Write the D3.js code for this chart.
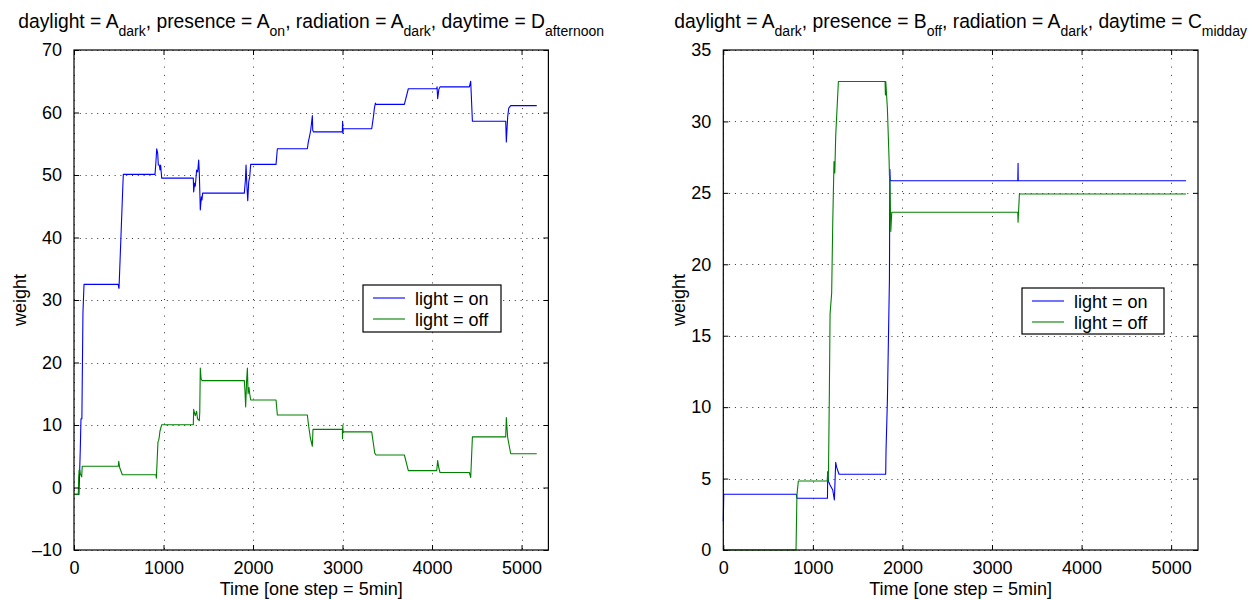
<!DOCTYPE html>
<html>
<head>
<meta charset="utf-8">
<script src="https://cdn.jsdelivr.net/npm/d3@7"></script>
<style>
  html, body { margin: 0; padding: 0; background: #fff; }
  svg { display: block; font-family: "Liberation Sans", Arial, Helvetica, sans-serif; }
</style>
</head>
<body>
<svg id="chart" width="1259" height="600"></svg>
<script>
// ---- data: [time step, weight] ----
const leftOn = [
  [0,-1.1],[55,-1.1],[62,2],[70,6],[78,11],[88,11],[100,28],[112,32.5],[495,32.5],[500,31.9],[503,31.9],
  [545,48],[551,50.1],[905,50.1],[915,52],[924,54.2],[935,53.5],[942,51.6],[953,51.6],[961,50.8],[968,51.6],[980,49.5],
  [1333,49.5],[1337,47.3],[1348,48.7],[1355,48.2],[1370,50.8],[1382,50.5],[1393,52.4],[1400,50.3],[1411,44.4],[1423,46.5],[1430,46],[1437,47.1],
  [1903,47.1],[1915,49.2],[1922,51.6],[1930,48.7],[1941,45.9],[1952,48.9],[1963,49.7],[1974,51.7],
  [2257,51.7],[2272,54.2],[2607,54.2],[2618,55.3],[2630,56.1],[2645,57.2],[2663,59.5],[2667,57.2],[2675,56.9],
  [2998,56.9],[3001,58.6],[3004,56.7],[3009,57.4],[3326,57.4],[3345,59.3],[3356,60.7],[3367,61.5],[3374,61.3],
  [3691,61.3],[3735,63.8],[4052,63.8],[4056,64.1],[4063,62.2],[4076,63.7],[4089,64.1],[4417,64.1],[4432,65.0],[4451,58.6],
  [4823,58.6],[4830,55.3],[4845,59.3],[4857,60.7],[4879,61.1],[5170,61.1]
];
const leftOff = [
  [0,-1.1],[48,-1.1],[52,1.5],[57,2.8],[65,2.8],[70,2.2],[86,1.7],[92,3.4],[495,3.4],[500,4.2],[510,3.2],[540,2.05],
  [916,2.05],[920,1.5],[928,4],[938,7.3],[945,7.5],[952,8.0],[960,9],[980,10.05],
  [1333,10.05],[1337,12.5],[1345,12],[1355,11.5],[1370,12.2],[1380,11],[1400,10.7],[1405,12],[1411,19.1],[1420,17.4],[1430,17.1],
  [1903,17.1],[1910,15.5],[1918,12.9],[1928,17],[1937,19.1],[1945,15],[1955,16],[1963,15],[1974,14.0],
  [2257,14.0],[2272,11.6],[2607,11.6],[2620,10],[2640,8],[2663,6.6],[2670,9.3],[2675,9.3],
  [2998,9.3],[3000,7.8],[3003,10],[3006,8.9],[3326,8.9],[3340,7.5],[3355,6],[3360,5.5],[3374,5.2],
  [3691,5.2],[3735,2.7],[4052,2.7],[4063,4.3],[4075,3.2],[4089,2.4],[4417,2.4],[4432,1.6],[4451,8.1],
  [4823,8.1],[4830,11.2],[4845,8],[4879,5.4],[5170,5.4]
];
const rightOn = [
  [0,2.0],[5,3.9],[815,3.9],[822,3.62],[1163,3.62],[1166,5.44],[1175,4.8],[1192,4.55],[1222,4.2],[1240,3.5],
  [1255,6.14],[1265,5.8],[1292,5.3],[1813,5.3],[1817,7.0],[1832,10.43],[1851,17.5],[1855,19],[1860,26.65],[1864,25.9],
  [1877,25.85],[3288,25.85],[3291,27.07],[3293,25.85],[5167,25.85]
];
const rightOff = [
  [0,0],[812,0],[822,3.8],[826,4.1],[838,4.83],[1160,4.83],[1166,5.5],[1170,4.8],[1175,5.7],[1184,10.9],[1192,16.5],
  [1210,18],[1222,22.9],[1236,27.2],[1245,26.4],[1255,29],[1285,32.8],[1806,32.8],[1810,31.85],[1814,32.8],
  [1832,30.9],[1851,27.3],[1855,26.2],[1860,26],[1870,22.3],[1881,23.64],[3288,23.64],[3291,22.94],[3306,24.92],[5167,24.92]
];

const xTicks = [0, 1000, 2000, 3000, 4000, 5000];
const leftYTicks = [-10, 0, 10, 20, 30, 40, 50, 60, 70];
const rightYTicks = [0, 5, 10, 15, 20, 25, 30, 35];
const legendLabels = ["light = on", "light = off"];
const seriesColors = ["#0000ff", "#008000"];
const leftTitle = [["daylight = A", "dark"], [", presence = A", "on"], [", radiation = A", "dark"], [", daytime = D", "afternoon"]];
const rightTitle = [["daylight = A", "dark"], [", presence = B", "off"], [", radiation = A", "dark"], [", daytime = C", "midday"]];

const svg = d3.select("#chart");
const FS = 18;
const SUB_SHIFT = 7.5;

function panel(cfg) {
  const x = d3.scaleLinear().domain([0, 5300]).range([cfg.x0, cfg.x1]);
  const y = d3.scaleLinear().domain(cfg.yDomain).range([cfg.y1, cfg.y0]);
  const g = svg.append("g");

  // dotted grid
  g.selectAll("line.gx").data(xTicks).join("line")
    .attr("x1", d => Math.round(x(d)) + 0.5).attr("x2", d => Math.round(x(d)) + 0.5)
    .attr("y1", cfg.y0).attr("y2", cfg.y1)
    .attr("stroke", "#333").attr("stroke-width", 1).attr("stroke-dasharray", "1,7.3");
  g.selectAll("line.gy").data(cfg.yTicks).join("line")
    .attr("y1", d => Math.round(y(d)) + 0.5).attr("y2", d => Math.round(y(d)) + 0.5)
    .attr("x1", cfg.x0).attr("x2", cfg.x1)
    .attr("stroke", "#333").attr("stroke-width", 1).attr("stroke-dasharray", "1,4.8");

  // series
  const line = d3.line().x(d => x(d[0])).y(d => y(d[1]));
  cfg.series.forEach((s, i) => {
    g.append("path").datum(s).attr("d", line)
      .attr("fill", "none").attr("stroke", seriesColors[i]).attr("stroke-width", 1.1)
      .attr("stroke-linejoin", "round");
  });

  // axes: ticks inward on all four sides
  const T = 5;
  g.append("g").attr("transform", `translate(0,${cfg.y1})`)
    .call(d3.axisBottom(x).tickValues(xTicks).tickSize(-T).tickPadding(T + 6).tickFormat(d3.format("d")));
  g.append("g").attr("transform", `translate(0,${cfg.y0})`)
    .call(d3.axisTop(x).tickValues(xTicks).tickSize(-T).tickFormat(""));
  g.append("g").attr("transform", `translate(${cfg.x0},0)`)
    .call(d3.axisLeft(y).tickValues(cfg.yTicks).tickSize(-T).tickPadding(T + 7)
      .tickFormat(d => d < 0 ? "\u2013" + Math.abs(d) : String(d)));
  g.append("g").attr("transform", `translate(${cfg.x1},0)`)
    .call(d3.axisRight(y).tickValues(cfg.yTicks).tickSize(-T).tickFormat(""));
  g.selectAll(".domain").remove();
  g.selectAll(".tick line").attr("stroke", "#000");
  g.selectAll(".tick text").attr("font-size", FS).attr("font-family", "Liberation Sans, Arial, sans-serif").attr("fill", "#000");

  // box
  g.append("rect").attr("x", cfg.x0).attr("y", cfg.y0)
    .attr("width", cfg.x1 - cfg.x0).attr("height", cfg.y1 - cfg.y0)
    .attr("fill", "none").attr("stroke", "#000").attr("stroke-width", 1.2);

  // labels
  g.append("text").attr("x", (cfg.x0 + cfg.x1) / 2).attr("y", 595)
    .attr("text-anchor", "middle").attr("font-size", FS).text("Time [one step = 5min]");
  g.append("text").attr("transform", `translate(${cfg.yLabelX},${(cfg.y0 + cfg.y1) / 2}) rotate(-90)`)
    .attr("text-anchor", "middle").attr("font-size", FS).text("weight");

  // title with subscripts
  const t = g.append("text").attr("x", (cfg.x0 + cfg.x1) / 2).attr("y", 28)
    .attr("text-anchor", "middle").attr("font-size", 19.3);
  cfg.title.forEach(([main, sub], i) => {
    t.append("tspan").attr("dy", i === 0 ? 0 : -SUB_SHIFT).text(main);
    t.append("tspan").attr("font-size", 14).attr("dy", SUB_SHIFT).text(sub);
  });

  // legend
  const L = cfg.legend;
  const lg = g.append("g");
  lg.append("rect").attr("x", L.x).attr("y", L.y).attr("width", L.w).attr("height", L.h)
    .attr("fill", "#fff").attr("stroke", "#000").attr("stroke-width", 1.2);
  legendLabels.forEach((lab, i) => {
    const cy = L.y + 13 + i * 21;
    lg.append("line").attr("x1", L.x + 10).attr("x2", L.x + 42).attr("y1", cy).attr("y2", cy)
      .attr("stroke", seriesColors[i]).attr("stroke-width", 1.1);
    lg.append("text").attr("x", L.x + 52).attr("y", cy + 6.5).attr("font-size", FS).text(lab);
  });
}

panel({
  x0: 74, x1: 548.4, y0: 50, y1: 550, yDomain: [-10, 70], yTicks: leftYTicks,
  series: [leftOn, leftOff], title: leftTitle, yLabelX: 26,
  legend: { x: 363, y: 285, w: 138, h: 47 }
});
panel({
  x0: 723.3, x1: 1198, y0: 50, y1: 550, yDomain: [0, 35], yTicks: rightYTicks,
  series: [rightOn, rightOff], title: rightTitle, yLabelX: 685,
  legend: { x: 1022, y: 288, w: 142, h: 46 }
});
</script>
</body>
</html>
